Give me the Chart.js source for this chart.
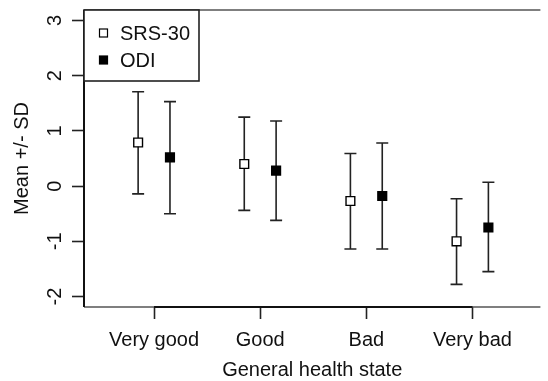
<!DOCTYPE html>
<html>
<head>
<meta charset="utf-8">
<script src="https://cdn.jsdelivr.net/npm/chart.js@4/dist/chart.umd.min.js"></script>
<style>
  html, body { margin: 0; padding: 0; background: #fff; }
  #wrap { width: 548px; height: 381px; position: relative; }
</style>
</head>
<body>
<div id="wrap"><canvas id="chart"></canvas></div>
<script>
// health state groups on the x axis (positions 1..4)
const states = ["Very good", "Good", "Bad", "Very bad"];
const statePos = [1, 2, 3, 4];
const yTicks = [-2, -1, 0, 1, 2, 3];

// mean and SD bounds per group
const srsMean = [0.79, 0.40, -0.27, -1.00];
const srsUpper = [1.71, 1.25, 0.59, -0.23];
const srsLower = [-0.14, -0.44, -1.14, -1.78];

const odiMean = [0.52, 0.28, -0.18, -0.75];
const odiUpper = [1.53, 1.18, 0.78, 0.07];
const odiLower = [-0.50, -0.62, -1.14, -1.55];

const series = [
  { label: "SRS-30", shift: -0.15, mean: srsMean, upper: srsUpper, lower: srsLower, fill: "#ffffff" },
  { label: "ODI", shift: 0.15, mean: odiMean, upper: odiUpper, lower: odiLower, fill: "#000000" }
];

const FONT = "'Liberation Sans', Arial, sans-serif";
const FS = 20;

// whiskers with caps, drawn under the points
const errorBars = {
  id: "errorBars",
  beforeDatasetsDraw(chart) {
    const ctx = chart.ctx, x = chart.scales.x, y = chart.scales.y;
    ctx.save();
    ctx.strokeStyle = "#222";
    ctx.lineWidth = 1.6;
    series.forEach(s => {
      statePos.forEach((p, i) => {
        const px = x.getPixelForValue(p + s.shift);
        const top = y.getPixelForValue(s.upper[i]);
        const bot = y.getPixelForValue(s.lower[i]);
        ctx.beginPath();
        ctx.moveTo(px, top); ctx.lineTo(px, bot);
        ctx.moveTo(px - 6, top); ctx.lineTo(px + 6, top);
        ctx.moveTo(px - 6, bot); ctx.lineTo(px + 6, bot);
        ctx.stroke();
      });
    });
    ctx.restore();
  }
};

// frame, rotated y labels and the legend box
const frame = {
  id: "frame",
  afterDraw(chart) {
    const ctx = chart.ctx, a = chart.chartArea, x = chart.scales.x, y = chart.scales.y;
    ctx.save();
    // box line (lighter) on top and bottom
    ctx.strokeStyle = "#555";
    ctx.lineWidth = 1.6;
    ctx.beginPath();
    ctx.moveTo(a.left, a.top); ctx.lineTo(a.right, a.top);
    ctx.moveTo(a.left, a.bottom); ctx.lineTo(a.right, a.bottom);
    ctx.stroke();
    // axis line between first and last tick
    ctx.strokeStyle = "#111";
    ctx.lineWidth = 2;
    ctx.beginPath();
    ctx.moveTo(x.getPixelForValue(statePos[0]), a.bottom);
    ctx.lineTo(x.getPixelForValue(statePos[statePos.length - 1]), a.bottom);
    ctx.moveTo(a.left, a.top); ctx.lineTo(a.left, a.bottom);
    ctx.stroke();

    // y tick labels, rotated like the axis title
    ctx.fillStyle = "#111";
    ctx.font = FS + "px " + FONT;
    ctx.textAlign = "center";
    ctx.textBaseline = "middle";
    yTicks.forEach(v => {
      ctx.save();
      ctx.translate(55, y.getPixelForValue(v));
      ctx.rotate(-Math.PI / 2);
      ctx.fillText(String(v), 0, 0);
      ctx.restore();
    });

    // legend
    const lx = a.left, ly = a.top, lw = 115, lh = 71;
    ctx.fillStyle = "#fff";
    ctx.fillRect(lx, ly, lw, lh);
    ctx.strokeStyle = "#222";
    ctx.lineWidth = 1.6;
    ctx.strokeRect(lx, ly, lw, lh);
    series.forEach((s, i) => {
      const cy = ly + 23 + i * 27;
      ctx.fillStyle = s.fill;
      ctx.fillRect(lx + 15.5, cy - 4, 8, 8);
      ctx.strokeStyle = "#000";
      ctx.lineWidth = 1.2;
      ctx.strokeRect(lx + 15.5, cy - 4, 8, 8);
      ctx.fillStyle = "#111";
      ctx.textAlign = "left";
      ctx.textBaseline = "middle";
      ctx.fillText(s.label, lx + 36, cy + 1);
    });
    ctx.restore();
  }
};

new Chart(document.getElementById("chart"), {
  type: "scatter",
  data: {
    datasets: series.map(s => ({
      label: s.label,
      data: statePos.map((p, i) => ({ x: p + s.shift, y: s.mean[i] })),
      pointStyle: "rect",
      pointRadius: 6.2,
      pointHoverRadius: 6.2,
      pointBorderWidth: 1.4,
      borderColor: "#000",
      backgroundColor: s.fill
    }))
  },
  options: {
    responsive: true,
    maintainAspectRatio: false,
    animation: false,
    layout: { padding: { top: 10, right: 0, left: 0, bottom: 0 } },
    plugins: {
      legend: { display: false },
      tooltip: { enabled: false }
    },
    scales: {
      x: {
        type: "linear",
        min: 0.34,
        max: 4.64,
        afterBuildTicks: s => { s.ticks = statePos.map(v => ({ value: v })); },
        afterFit: s => { s.height = 74; },
        grid: { drawOnChartArea: false, drawTicks: true, tickLength: 12, tickWidth: 1.6, tickColor: "#222" },
        border: { display: false },
        ticks: {
          color: "#111",
          font: { family: FONT, size: FS },
          padding: 9,
          maxRotation: 0,
          callback: v => states[statePos.indexOf(v)]
        },
        title: {
          display: true,
          text: "General health state",
          color: "#111",
          font: { family: FONT, size: FS },
          padding: { top: 0, bottom: -1 }
        }
      },
      y: {
        min: -2.19,
        max: 3.19,
        afterBuildTicks: s => { s.ticks = yTicks.map(v => ({ value: v })); },
        afterFit: s => { s.width = 84; },
        grid: { drawOnChartArea: false, drawTicks: true, tickLength: 12, tickWidth: 1.6, tickColor: "#222" },
        border: { display: false },
        ticks: { display: false },
        title: {
          display: true,
          text: "Mean +/- SD",
          color: "#111",
          font: { family: FONT, size: FS },
          padding: { top: 10, bottom: 0 }
        }
      }
    }
  },
  plugins: [errorBars, frame]
});
</script>
</body>
</html>
